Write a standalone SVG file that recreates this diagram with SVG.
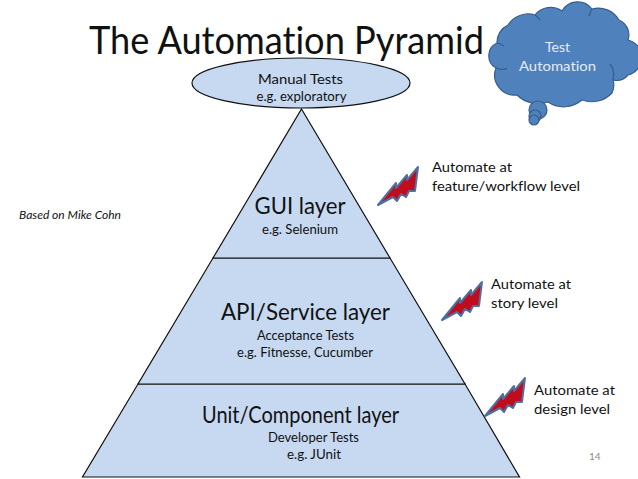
<svg xmlns="http://www.w3.org/2000/svg" width="638" height="479" viewBox="0 0 638 479">
<style>
text{font-family:"Lato","Carlito","Open Sans",sans-serif;fill:#111;text-anchor:start;font-variant-ligatures:none}
.h{font-size:22.5px}
.s{font-size:12.5px}
.n{font-size:14px}
.layer{fill:#c6d9f1;stroke:#111;stroke-width:1.2}
.bolt{fill:#c00d1e;stroke:#4f6f9f;stroke-width:2;stroke-linejoin:round}
.cloud{fill:#4f81bd;stroke:#385d8a;stroke-width:1.2}
.crease{fill:none;stroke:#385d8a;stroke-width:1.2}
.w{fill:#e4ecf6;font-size:13.5px}
</style>
<defs>
<path id="bolt" d="M0,0 L18,-22 L18,-17 L29,-30 L29,-25 L40,-38 L37,-14 L31,-14 L28,-8 L23,-11 L19,-4 L15,-8 Z"/>
</defs>
<g id="title"><text x="89" y="54" font-size="39.5" textLength="395" lengthAdjust="spacingAndGlyphs">The Automation Pyramid</text></g>
<g id="attribution"><text x="19" y="219" font-size="10.5" font-style="italic" textLength="102" lengthAdjust="spacingAndGlyphs">Based on Mike Cohn</text></g>
<g id="layer-unit">
<path class="layer" d="M138,384 L465,384 L519.5,477 L82.5,477 Z"/>
<text class="h" x="202" y="422.5" textLength="197" lengthAdjust="spacingAndGlyphs">Unit/Component layer</text>
<text class="s" x="268" y="442" textLength="91" lengthAdjust="spacingAndGlyphs">Developer Tests</text>
<text class="s" x="287" y="459" textLength="54" lengthAdjust="spacingAndGlyphs">e.g. JUnit</text>
</g>
<g id="layer-api">
<path class="layer" d="M213,258 L390,258 L465,384 L138,384 Z"/>
<text class="h" x="221" y="319.5" textLength="169" lengthAdjust="spacingAndGlyphs">API/Service layer</text>
<text class="s" x="257" y="339.5" textLength="97" lengthAdjust="spacingAndGlyphs">Acceptance Tests</text>
<text class="s" x="237" y="357" textLength="136" lengthAdjust="spacingAndGlyphs">e.g. Fitnesse, Cucumber</text>
</g>
<g id="layer-gui">
<path class="layer" d="M301.5,109 L390,258 L213,258 Z"/>
<text class="h" x="254.500" y="214" textLength="91" lengthAdjust="spacingAndGlyphs">GUI layer</text>
<text class="s" x="262" y="234" textLength="76" lengthAdjust="spacingAndGlyphs">e.g. Selenium</text>
</g>
<g id="manual-tests">
<ellipse cx="301" cy="83" rx="109" ry="25" fill="#c6d9f1" stroke="#111" stroke-width="1.2"/>
<text x="258" y="84" font-size="13" textLength="85" lengthAdjust="spacingAndGlyphs">Manual Tests</text>
<text x="256.500" y="101" font-size="13" textLength="90" lengthAdjust="spacingAndGlyphs">e.g. exploratory</text>
</g>
<g id="test-automation">
<path class="cloud" d="M496,68 A14,14 0 0 1 497,43 A19,19 0 0 1 508,25 A24,24 0 0 1 535,15 A20,20 0 0 1 562,11 A18,18 0 0 1 592,9 A24,24 0 0 1 619,20 A16,16 0 0 1 628,40 A18,18 0 0 1 628,75 A15,15 0 0 1 613,80 A18,18 0 0 1 612,93 A28,28 0 0 1 582,100 A28,28 0 0 1 548,102 A30,30 0 0 1 517,95 A20,20 0 0 1 496,68 Z"/>
<path class="crease" d="M496,68 Q504,71 507,68 M497,43 Q501,44 504,46 M610,64 Q615,70 613,80 M535,15 Q538,17 540,20 M592,9 Q590,13 589,16"/>
<circle class="cloud" cx="538" cy="110" r="9"/>
<circle class="cloud" cx="535" cy="116" r="6"/>
<circle class="cloud" cx="534" cy="120" r="5"/>
<text class="w" x="545" y="52" textLength="25" lengthAdjust="spacingAndGlyphs">Test</text>
<text class="w" x="519" y="71" textLength="77" lengthAdjust="spacingAndGlyphs">Automation</text>
</g>
<g id="note-feature">
<use href="#bolt" class="bolt" x="378" y="205"/>
<text class="n" x="432" y="172" textLength="80" lengthAdjust="spacingAndGlyphs">Automate at</text>
<text class="n" x="432" y="191" textLength="148" lengthAdjust="spacingAndGlyphs">feature/workflow level</text>
</g>
<g id="note-story">
<use href="#bolt" class="bolt" x="442" y="320"/>
<text class="n" x="491" y="289" textLength="80" lengthAdjust="spacingAndGlyphs">Automate at</text>
<text class="n" x="491" y="308" textLength="67" lengthAdjust="spacingAndGlyphs">story level</text>
</g>
<g id="note-design">
<use href="#bolt" class="bolt" x="485" y="416"/>
<text class="n" x="534" y="395" textLength="81" lengthAdjust="spacingAndGlyphs">Automate at</text>
<text class="n" x="534" y="414" textLength="76" lengthAdjust="spacingAndGlyphs">design level</text>
</g>
<g id="page-number"><text x="589" y="460" font-size="10" style="fill:#8b8b8b">14</text></g>
<g id="connectors"/>
</svg>
